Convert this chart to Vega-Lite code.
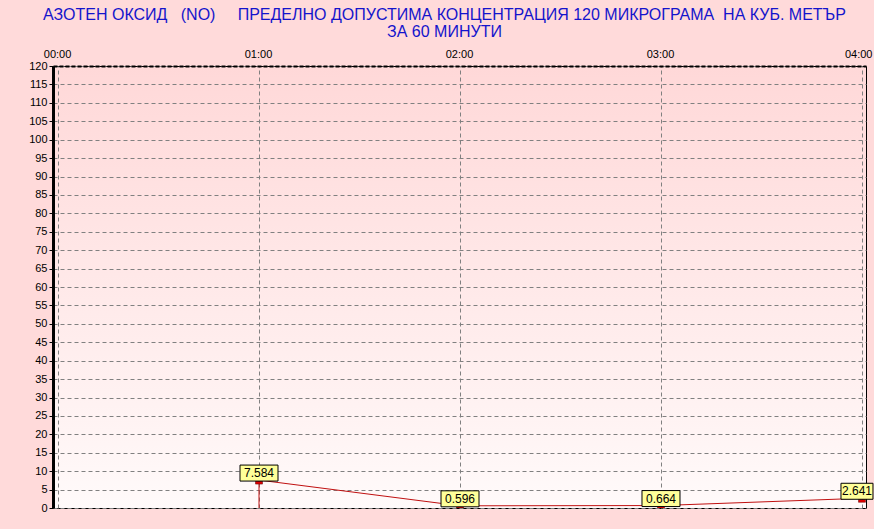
{
  "$schema": "https://vega.github.io/schema/vega-lite/v6.json",
  "width": 813,
  "height": 442,
  "autosize": {"type": "none"},
  "padding": {"left": 53, "top": 66, "right": 8, "bottom": 21},
  "background": "#ffdada",
  "title": {
    "text": ["АЗОТЕН ОКСИД\u00a0\u00a0 (NO)\u00a0\u00a0\u00a0\u00a0 ПРЕДЕЛНО ДОПУСТИМА КОНЦЕНТРАЦИЯ 120 МИКРОГРАМА\u00a0 НА КУБ. МЕТЪР", "ЗА 60 МИНУТИ"],
    "font": "Liberation Sans",
    "fontSize": 16,
    "fontWeight": "normal",
    "color": "#1414cc",
    "anchor": "middle",
    "frame": "group",
    "dx": -15,
    "offset": 8,
    "lineHeight": 17
  },
  "config": {
    "view": {
      "stroke": "#000000",
      "strokeWidth": 1,
      "fill": {
        "gradient": "linear",
        "x1": 0, "y1": 0, "x2": 0, "y2": 1,
        "stops": [
          {"offset": 0, "color": "#ffd8d8"},
          {"offset": 0.5, "color": "#ffe9e9"},
          {"offset": 1, "color": "#fffafa"}
        ]
      }
    },
    "axis": {
      "labelFont": "Liberation Sans",
      "labelFontSize": 11,
      "labelColor": "#000000",
      "gridColor": "#808080",
      "gridDash": [4, 3],
      "gridWidth": 1,
      "gridOpacity": 1
    }
  },
  "data": {
    "values": [
      {"hour": 1, "value": 7.584},
      {"hour": 2, "value": 0.596},
      {"hour": 3, "value": 0.664},
      {"hour": 4, "value": 2.641}
    ]
  },
  "encoding": {
    "x": {
      "field": "hour",
      "type": "quantitative",
      "scale": {"domain": [-0.025, 4.02], "nice": false, "zero": false, "padding": 0},
      "axis": {
        "orient": "top",
        "title": null,
        "values": [0, 1, 2, 3, 4],
        "labelExpr": "'0' + datum.value + ':00'",
        "labelAlign": {"condition": {"test": "datum.value == 4", "value": "right"}, "value": "center"},
        "labelOffset": {"condition": {"test": "datum.value == 4", "value": 10}, "value": -1},
        "grid": true,
        "ticks": false,
        "labelPadding": 7,
        "domain": true,
        "domainColor": "#000000",
        "domainWidth": 2,
        "domainDash": [4, 2]
      }
    },
    "y": {
      "field": "value",
      "type": "quantitative",
      "scale": {"domain": [0, 120], "nice": false, "padding": 0},
      "axis": {
        "title": null,
        "values": [0, 5, 10, 15, 20, 25, 30, 35, 40, 45, 50, 55, 60, 65, 70, 75, 80, 85, 90, 95, 100, 105, 110, 115, 120],
        "grid": true,
        "ticks": true,
        "tickSize": 4,
        "tickColor": "#000000",
        "labelPadding": 2,
        "domain": true,
        "domainColor": "#000000",
        "domainWidth": 3
      }
    }
  },
  "layer": [
    {
      "transform": [{"filter": "datum.hour == 1"}],
      "mark": {"type": "rule", "color": "#c01010", "strokeWidth": 1},
      "encoding": {
        "y": {"datum": 0},
        "y2": {"field": "value"}
      }
    },
    {
      "mark": {"type": "line", "color": "#c01010", "strokeWidth": 1}
    },
    {
      "mark": {"type": "bar", "color": "#e00000", "stroke": "#600000", "strokeWidth": 0.5, "width": 7, "y2Offset": 4, "yOffset": 1, "clip": true},
      "encoding": {
        "y2": {"field": "value"}
      }
    },
    {
      "transform": [{"filter": "datum.hour < 4"}],
      "mark": {"type": "bar", "color": "#ffff99", "stroke": "#000000", "strokeWidth": 1, "width": 38, "yOffset": -15, "y2Offset": 1},
      "encoding": {
        "y2": {"field": "value"}
      }
    },
    {
      "transform": [{"filter": "datum.hour == 4"}],
      "mark": {"type": "bar", "color": "#ffff99", "stroke": "#000000", "strokeWidth": 1, "width": 32, "xOffset": -5, "yOffset": -15, "y2Offset": 1},
      "encoding": {
        "y2": {"field": "value"}
      }
    },
    {
      "transform": [{"filter": "datum.hour < 4"}],
      "mark": {"type": "text", "font": "Liberation Sans", "fontSize": 12, "color": "#000000", "baseline": "middle", "align": "center", "yOffset": -7},
      "encoding": {
        "text": {"field": "value", "type": "quantitative", "format": ".3f"}
      }
    },
    {
      "transform": [{"filter": "datum.hour == 4"}],
      "mark": {"type": "text", "font": "Liberation Sans", "fontSize": 12, "color": "#000000", "baseline": "middle", "align": "center", "yOffset": -7, "xOffset": -5},
      "encoding": {
        "text": {"field": "value", "type": "quantitative", "format": ".3f"}
      }
    }
  ]
}
